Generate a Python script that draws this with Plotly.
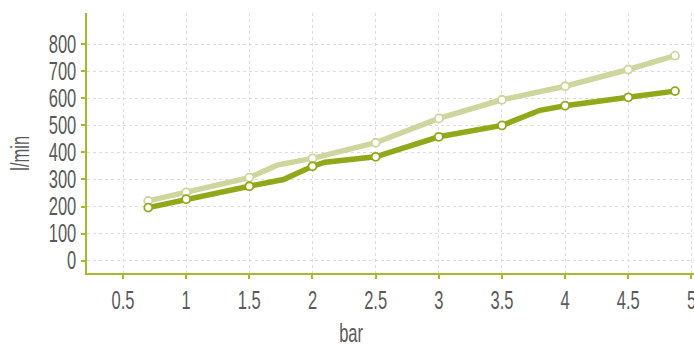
import plotly.graph_objects as go

# data
x_light = [0.7, 1.0, 1.5, 1.72, 2.0, 2.5, 3.0, 3.5, 4.0, 4.5, 4.87]
y_light = [221, 252, 307, 353, 378, 436, 526, 595, 645, 707, 758]
marker_light = [True, True, True, False, True, True, True, True, True, True, True]

x_dark = [0.7, 1.0, 1.5, 1.77, 2.0, 2.1, 2.5, 3.0, 3.5, 3.8, 4.0, 4.5, 4.87]
y_dark = [196, 227, 275, 300, 349, 364, 384, 458, 500, 556, 573, 604, 627]
marker_dark = [True, True, True, False, True, False, True, True, True, False, True, True, True]

x_ticks = [0.5, 1, 1.5, 2, 2.5, 3, 3.5, 4, 4.5, 5]
x_tick_text = ["0.5", "1", "1.5", "2", "2.5", "3", "3.5", "4", "4.5", "5"]
y_ticks = [0, 100, 200, 300, 400, 500, 600, 700, 800]

LIGHT = "#cfd69d"
DARK = "#91a818"
AXIS = "#a6b92c"
TXT = "#5a5a5a"
FONT = "Liberation Sans, Arial, sans-serif"
FS = 25

fig = go.Figure()

def add_series(xs, ys, mk, color):
    fig.add_trace(go.Scatter(x=xs, y=ys, mode="lines",
                             line=dict(color=color, width=5.5),
                             hoverinfo="skip", showlegend=False))
    fig.add_trace(go.Scatter(x=[a for a, m in zip(xs, mk) if m],
                             y=[b for b, m in zip(ys, mk) if m],
                             mode="markers",
                             marker=dict(size=8, color="white",
                                         line=dict(color=color, width=1.8)),
                             showlegend=False))

add_series(x_light, y_light, marker_light, LIGHT)
add_series(x_dark, y_dark, marker_dark, DARK)

axis_common = dict(showline=True, linecolor=AXIS, linewidth=1.5,
                   ticks="outside", ticklen=4, tickcolor=AXIS, tickwidth=1.5,
                   showgrid=True, gridcolor="#dcdcdc", griddash="dot", gridwidth=1,
                   zeroline=False, automargin=False,
                   tickfont=dict(family=FONT, size=FS, color=TXT))

fig.update_layout(
    width=694, height=344,
    margin=dict(l=87, r=0, t=13, b=71),
    paper_bgcolor="white", plot_bgcolor="white",
    font=dict(family=FONT, size=FS, color=TXT),
    xaxis=dict(range=[0.215, 5.02], tickvals=x_ticks, ticktext=x_tick_text,
               ticklabeloverflow="allow", **axis_common),
    yaxis=dict(range=[-46, 916], tickvals=y_ticks, **axis_common),
    annotations=[
        dict(text="l/min", xref="paper", yref="paper", x=-0.110, y=0.46,
             xanchor="center", yanchor="middle", textangle=-90, showarrow=False,
             font=dict(family=FONT, size=FS, color=TXT)),
        dict(text="bar", xref="paper", yref="paper", x=(351 - 87) / 607, y=-0.231,
             xanchor="center", yanchor="middle", showarrow=False,
             font=dict(family=FONT, size=FS, color=TXT)),
    ],
)

# remove default page margin and narrow the text horizontally (condensed look)
post = """
document.body.style.margin='0';document.body.style.overflow='hidden';
var S=0.66;
document.querySelectorAll('svg text').forEach(function(t){
  if(!t.textContent) return;
  var b=t.getBBox(); var a=t.getAttribute('text-anchor')||'start';
  var ax=a==='middle'?b.x+b.width/2:(a==='end'?b.x+b.width:b.x);
  var tr=t.getAttribute('transform')||'';
  t.setAttribute('transform',tr+' translate('+ax+',0) scale('+S+',1) translate('+(-ax)+',0)');
});
"""

fig.write_html("out.html", post_script=post, config={"displayModeBar": False})
